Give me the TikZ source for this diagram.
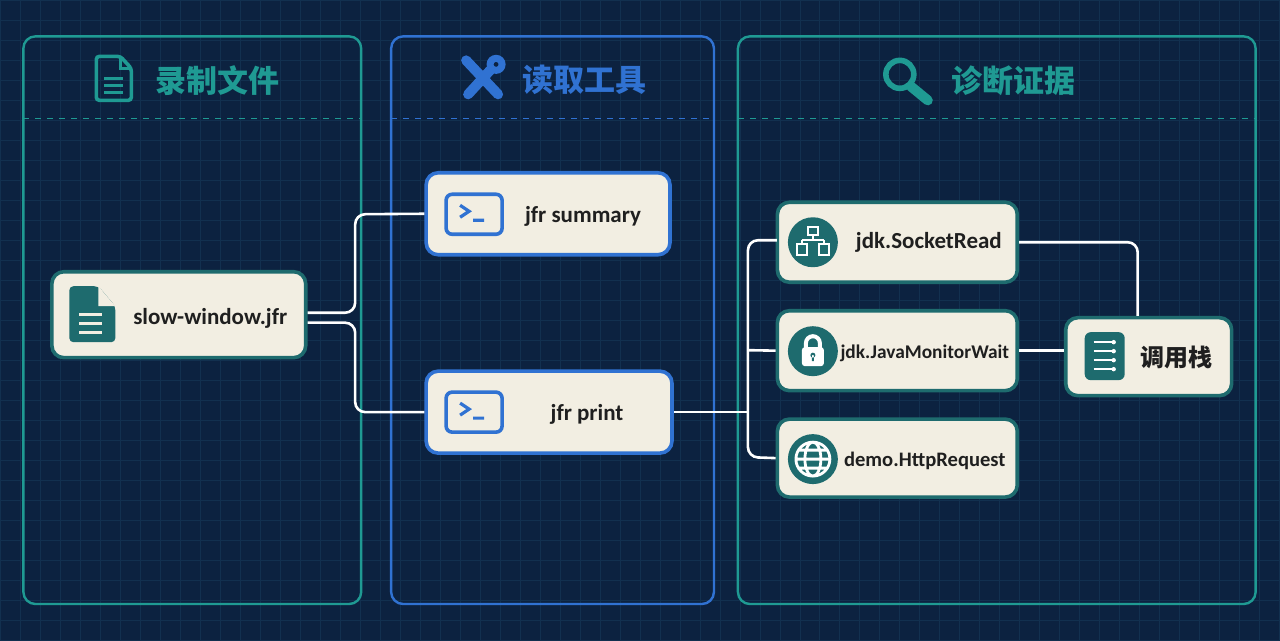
\documentclass[tikz,border=0pt]{standalone}
\usepackage{fontspec}
\setmainfont{Carlito}
\newfontfamily\cjk{Noto Sans CJK SC}
\definecolor{bgc}{HTML}{0C2240}
\definecolor{gridc}{HTML}{12304F}
\definecolor{tealc}{HTML}{1F9A93}
\definecolor{tealdk}{HTML}{1E6B6E}
\definecolor{bluec}{HTML}{3072D2}
\definecolor{creamc}{HTML}{F2EEE2}
\tikzset{
  panel/.style={draw=#1, line width=1.2pt, rounded corners=6pt},
  box/.style={draw=#1, line width=1.8pt, fill=creamc, rounded corners=6pt},
  lbl/.style={font=\bfseries\fontsize{11.5}{14}\selectfont, text=black!88},
  head/.style={font=\cjk\bfseries\fontsize{15.5}{17}\selectfont, text=#1},
  wire/.style={draw=white, line width=1.3pt, rounded corners=5pt},
  ring/.style={circle, fill=tealdk, minimum size=25pt, inner sep=0pt},
}
\begin{document}
\begin{tikzpicture}[x=0.5pt,y=-0.5pt]

  \fill[bgc] (0,0) rectangle (1280,640);
  \draw[gridc, line width=0.4pt, step=10pt] (0,0) grid (1280,640);

  % panels
  \draw[panel=tealc] (23,36) rectangle (361,604);
  \draw[panel=bluec] (391,36) rectangle (714,604);
  \draw[panel=tealc] (738,36) rectangle (1256,604);
  \draw[tealc, dashed, line width=0.8pt] (23,118) -- (361,118);
  \draw[bluec, dashed, line width=0.8pt] (391,118) -- (714,118);
  \draw[tealc, dashed, line width=0.8pt] (738,118) -- (1256,118);

  \node[head=tealc] (h1) at (217,80) {录制文件};
  \node[head=bluec] (h2) at (584,80) {读取工具};
  \node[head=tealc] (h3) at (1014,80) {诊断证据};

  % header icons
  \draw[tealc, line width=1.8pt, rounded corners=1.5pt]
    (96,56) -- (120,56) -- (131,68) -- (131,100) -- (96,100) -- cycle;
  \draw[tealc, line width=1.6pt] (120,56) -- (120,68) -- (131,68);
  \foreach \yy in {78,85,92} \draw[tealc, line width=1.6pt] (104,\yy) -- (123,\yy);
  \draw[bluec, line width=5pt, line cap=round] (466,60) -- (498,94);
  \draw[bluec, line width=5pt, line cap=round] (468,94) -- (490,70);
  \draw[bluec, line width=3.5pt] (496,64) circle (6);
  \draw[tealc, line width=2.8pt] (900,74) circle (14);
  \draw[tealc, line width=5pt, line cap=round] (911,86) -- (928,100);

  % nodes
  \node[box=tealdk, minimum width=127pt, minimum height=43pt] (slow) at (178.5,314.5) {};
  \node[box=bluec, minimum width=122pt, minimum height=41pt] (sum) at (548,213.5) {};
  \node[box=bluec, minimum width=123pt, minimum height=41pt] (prt) at (549,412) {};
  \node[box=tealdk, minimum width=120pt, minimum height=40pt] (sock) at (897.5,242) {};
  \node[box=tealdk, minimum width=120pt, minimum height=40pt] (mon) at (897.5,350.5) {};
  \node[box=tealdk, minimum width=120pt, minimum height=39pt] (http) at (897.5,458) {};
  \node[box=tealdk, minimum width=83pt, minimum height=39pt] (stk) at (1149,356.5) {};

  \node[lbl] (slow-t) at (210,318) {slow-window.jfr};
  \node[lbl] (sum-t) at (583,216) {jfr summary};
  \node[lbl] (prt-t) at (587,414) {jfr print};
  \node[lbl] (sock-t) at (929,242) {jdk.SocketRead};
  \node[lbl, font=\bfseries\fontsize{9.7}{14}\selectfont] (mon-t) at (925,353) {jdk.JavaMonitorWait};
  \node[lbl, font=\bfseries\fontsize{10.3}{14}\selectfont] (http-t) at (925,461) {demo.HttpRequest};
  \node[lbl, font=\cjk\bfseries\fontsize{12}{14}\selectfont] (stk-t) at (1177,357) {调用栈};

  % node icons
  \fill[tealdk, rounded corners=2pt] (69,286) -- (98,286) -- (115,306) -- (115,342) -- (69,342) -- cycle;
  \fill[creamc] (98,286) -- (98,306) -- (115,306) -- cycle;
  \foreach \yy in {314,323,332} \draw[creamc, line width=1.5pt] (79,\yy) -- (102,\yy);
  \foreach \n/\yy in {a/214,b/412} {
    \node[draw=bluec, line width=1.8pt, rounded corners=3pt, minimum width=28pt,
      minimum height=20pt, fill=creamc] (term-\n) at (474,\yy) {};
    \draw[bluec, line width=1.6pt] (460,\yy-9) -- (469,\yy-3) -- (460,\yy+3) (473,\yy+6) -- (484,\yy+6);
  }
  \node[ring] (ic1) at (813,242) {};
  \node[ring] (ic2) at (813,351) {};
  \node[ring] (ic3) at (813,459) {};
  \draw[white, line width=1.2pt] (808,227) rectangle (818,235) (813,235) -- (813,240)
    (802,240) -- (824,240) (802,240) -- (802,244) (824,240) -- (824,244)
    (797,244) rectangle (807,255) (819,244) rectangle (829,255);
  \fill[white, rounded corners=1.5pt] (802,347) rectangle (824,366);
  \draw[white, line width=2pt] (806,348) -- (806,343) arc (180:360:7) -- (820,348);
  \fill[tealdk] (813,355) circle (2.5) (812,355) rectangle (814,361);
  \draw[white, line width=1.4pt] (813,459) circle (17) (813,459) ellipse (8 and 17)
    (796,459) -- (830,459) (799,450) -- (827,450) (799,468) -- (827,468);
  \node[fill=tealdk, rounded corners=3pt, minimum width=20pt, minimum height=24pt] (ic4) at (1105,356) {};
  \foreach \yy in {342,351,360,369} {
    \draw[white, line width=1.3pt] (1094,\yy) -- (1112,\yy);
    \fill[white] (1114,\yy) circle (2.2);
  }

  % wires
  \draw[wire] ([yshift=1pt]slow.east) -| (355,214) -- (sum.west);
  \draw[wire] ([yshift=-4pt]slow.east) -| (355,412) -- (prt.west);
  \draw[wire] (prt.east) -- (748,412);
  \draw[wire] (777,240) -| (748,457) -- (http.west);
  \draw[wire] (748,350) -- (mon.west);
  \draw[wire] (sock.east) -| (stk.north -| 1138,0);
  \draw[wire] (mon.east) -- (stk.west |- mon.east);

\end{tikzpicture}
\end{document}
